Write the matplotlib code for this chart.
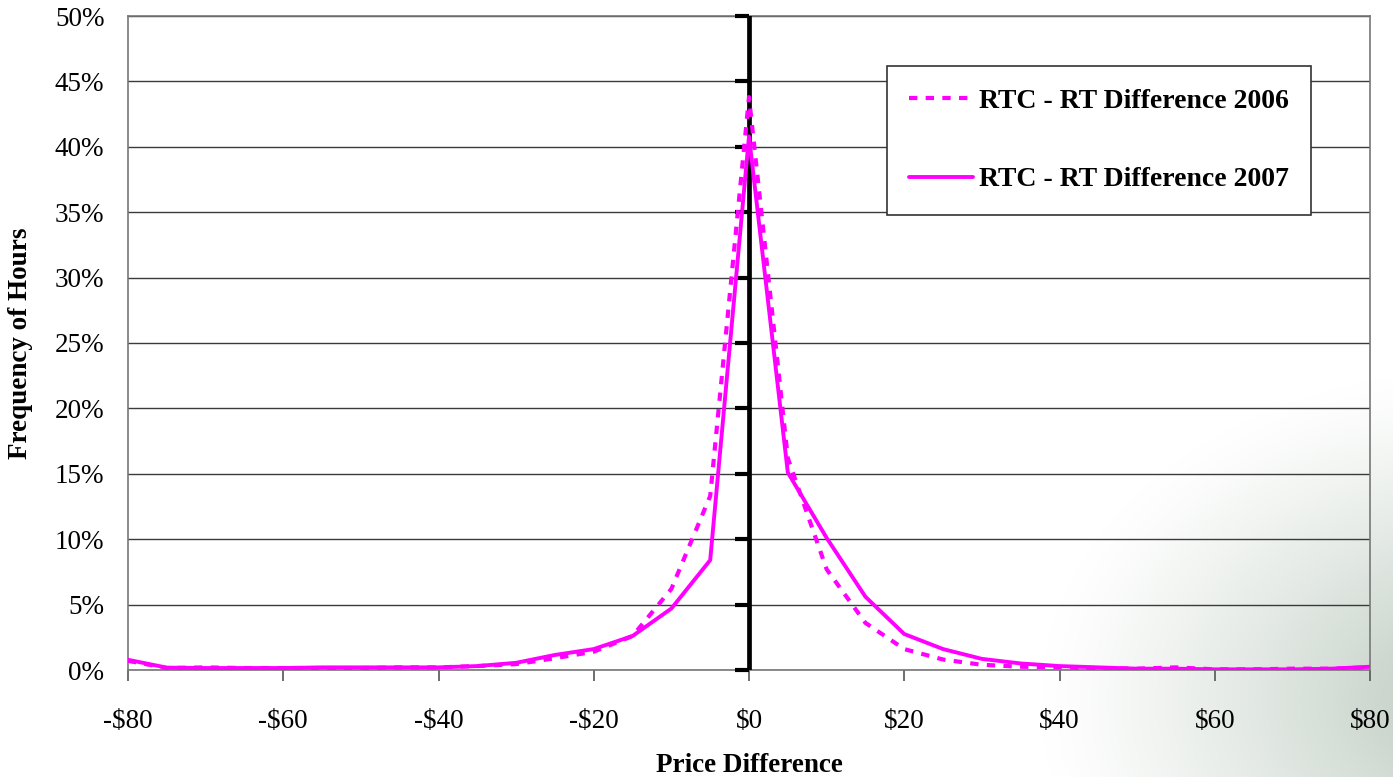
import numpy as np
import matplotlib.pyplot as plt
from matplotlib.ticker import FuncFormatter

# price difference bins ($)
price = list(range(-80, 85, 5))

# frequency of hours (%)
rtc_2006 = [0.7, 0.15, 0.2, 0.15, 0.15, 0.15, 0.15, 0.2, 0.2, 0.3, 0.45,
            0.9, 1.4, 2.6, 6.2, 13.3, 43.8, 16.2, 7.7, 3.6, 1.6, 0.8,
            0.4, 0.25, 0.2, 0.15, 0.1, 0.2, 0.05, 0.05, 0.1, 0.1, 0.2]
rtc_2007 = [0.78, 0.18, 0.15, 0.15, 0.15, 0.2, 0.2, 0.2, 0.2, 0.3, 0.55,
            1.15, 1.6, 2.6, 4.7, 8.4, 40.8, 15.1, 10.1, 5.6, 2.75, 1.6,
            0.85, 0.5, 0.3, 0.2, 0.1, 0.1, 0.05, 0.05, 0.05, 0.1, 0.25]

x_ticks = list(range(-80, 81, 20))
y_ticks = list(range(0, 51, 5))

plt.rcParams['font.family'] = ['Liberation Serif', 'DejaVu Serif']

fig = plt.figure(figsize=(13.93, 7.77), dpi=100)

# background vignette in the lower right corner
bg = fig.add_axes([0, 0, 1, 1], zorder=-5)
bg.axis('off')
h, w = 777, 1393
yy, xx = np.mgrid[0:h, 0:w]
d = np.sqrt(((xx - 1480) / 400.0) ** 2 + ((yy - 700) / 300.0) ** 2)
t = np.clip(1.1 - d, 0, 1) ** 1.2
white = np.array([1.0, 1.0, 1.0])
green = np.array([0.76, 0.81, 0.77])
img = white[None, None, :] * (1 - t[..., None]) + green[None, None, :] * t[..., None]
bg.imshow(img, aspect='auto', extent=(0, 1, 0, 1))

ax = fig.add_axes([128 / 1393, 1 - 670 / 777, 1242 / 1393, 654 / 777])
ax.set_facecolor('none')

ax.plot(price, rtc_2006, color='#FF00FF', lw=3.0, linestyle=(0, (2, 2)),
        label='RTC - RT Difference 2006', zorder=4)
ax.plot(price, rtc_2007, color='#FF00FF', lw=2.8, solid_capstyle='round',
        label='RTC - RT Difference 2007', zorder=5)

ax.set_xlim(-80, 80)
ax.set_ylim(0, 50)
ax.set_xticks(x_ticks)
ax.set_yticks(y_ticks)
ax.xaxis.set_major_formatter(FuncFormatter(lambda v, p: ('-$%d' % abs(v)) if v < 0 else '$%d' % v))
ax.yaxis.set_major_formatter(FuncFormatter(lambda v, p: '%d%%' % v))
ax.tick_params(axis='x', direction='out', length=8, color='#555555', width=1.2,
               labelsize=19.5, pad=20)
ax.tick_params(axis='y', length=0, labelsize=19.5, pad=17)

for s in ax.spines.values():
    s.set_color('#777777')
    s.set_linewidth(1.2)

ax.yaxis.grid(True, color='#3a3a3a', lw=1)
ax.set_axisbelow(True)

# zero axis with its tick marks
ax.axvline(0, color='black', lw=3.4, zorder=3)
ax.plot([0] * len(y_ticks), y_ticks, linestyle='none', marker=0,
        markersize=10, markeredgewidth=3, color='black', zorder=3, clip_on=False)

ax.set_xlabel('Price Difference', fontsize=19.5, fontweight='bold', labelpad=14)
ax.set_ylabel('Frequency of Hours', fontsize=19.5, fontweight='bold', labelpad=16)

leg = ax.legend(loc='upper left', bbox_to_anchor=(0.611, 0.9235),
                prop={'weight': 'bold', 'size': 20}, fancybox=False,
                edgecolor='#333333', framealpha=1, handlelength=2.3,
                labelspacing=1.92, borderpad=0.8, handletextpad=0.2,
                borderaxespad=0)
leg.get_frame().set_linewidth(1.2)

fig.savefig('out.png', dpi=100)
